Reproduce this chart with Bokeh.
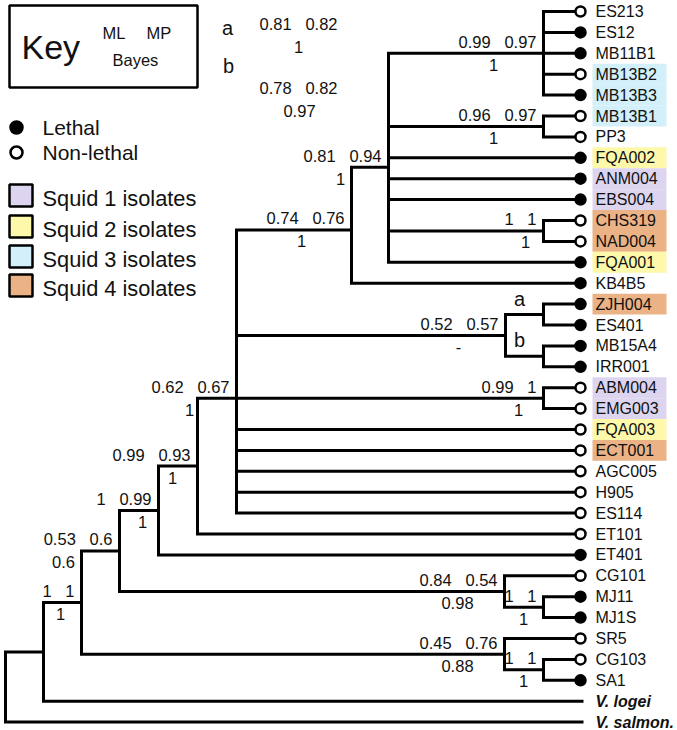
from bokeh.plotting import figure
from bokeh.models import Range1d
from bokeh.embed import file_html
from bokeh.resources import INLINE
from bokeh.core.properties import value

# ---------------- data ----------------
leaves = ["ES213", "ES12", "MB11B1", "MB13B2", "MB13B3", "MB13B1", "PP3",
          "FQA002", "ANM004", "EBS004", "CHS319", "NAD004", "FQA001", "KB4B5",
          "ZJH004", "ES401", "MB15A4", "IRR001", "ABM004", "EMG003", "FQA003",
          "ECT001", "AGC005", "H905", "ES114", "ET101", "ET401", "CG101",
          "MJ11", "MJ1S", "SR5", "CG103", "SA1", "V. logei", "V. salmon."]
# L = lethal, N = non-lethal, "" = outgroup (no marker)
lethal = ["N", "L", "L", "N", "L", "N", "N", "L", "L", "L", "N", "N", "L", "L",
          "L", "L", "L", "L", "N", "N", "N", "N", "N", "N", "N", "N", "L", "N",
          "L", "L", "N", "N", "L", "", ""]
# squid host group (0 = none)
squid = [0, 0, 0, 3, 3, 3, 0, 2, 1, 1, 4, 4, 2, 0, 4, 0, 0, 0, 1, 1, 2, 4,
         0, 0, 0, 0, 0, 0, 0, 0, 0, 0, 0, 0, 0]
squid_names = ["Squid 1 isolates", "Squid 2 isolates", "Squid 3 isolates", "Squid 4 isolates"]

# internal nodes (children listed before parents)
node_names = ["n1", "n2", "n3", "H", "F", "na", "nb", "nz", "nab", "E", "D", "G",
              "nmj", "ncg", "nsa", "nsr", "C", "B", "A", "root"]
node_children = [[0, 1, 2, 3, 4], [5, 6], [10, 11], ["n1", "n2", 7, 8, 9, "n3", 12],
                 ["H", 13], [14, 15], [16, 17], ["na", "nb"], [18, 19],
                 ["F", "nz", "nab", 20, 21, 22, 23, 24], ["E", 25], ["D", 26],
                 [28, 29], [27, "nmj"], [31, 32], [30, "nsa"], ["G", "ncg"],
                 ["C", "nsr"], ["B", 33], ["A", 34]]
# horizontal position of each node (branch depth)
node_depth = [543, 543, 543, 388, 351, 543, 543, 505, 543, 236, 197, 158,
              543, 504, 543, 504, 119, 81, 43, 5]
ml = ["0.99", "0.96", "1", "0.81", "0.74", "", "", "0.52", "0.99", "0.62", "0.99", "1",
      "1", "0.84", "1", "0.45", "0.53", "1", "", ""]
mp = ["0.97", "0.97", "1", "0.94", "0.76", "", "", "0.57", "1", "0.67", "0.93", "0.99",
      "1", "0.54", "1", "0.76", "0.6", "1", "", ""]
bayes = ["1", "1", "1", "1", "1", "", "", "-", "1", "1", "1", "1",
         "1", "0.98", "1", "0.88", "0.6", "1", "", ""]
clade_tags = {"na": "a", "nb": "b"}
clade_support = {"a": ("0.81", "0.82", "1"), "b": ("0.78", "0.82", "0.97")}

# ---------------- layout ----------------
Y0, DY = 11.0, 20.9
TIP = 580
FONT = value("Liberation Sans")
TXT = "#111111"
anchor_rows = {"H": 7.45, "F": 10.45, "E": 18.5}
bayes_dx = {"n1": -50, "n2": -50, "H": -48, "n3": -18, "F": -50, "nz": -47,
            "nab": -25, "E": -47, "D": -25, "G": -16, "C": -56, "B": -21,
            "ncg": -47, "nmj": -20, "nsr": -47, "nsa": -20}
squid_colors = {1: "#ddd5ef", 2: "#fdf8aa", 3: "#d3effa", 4: "#eab285"}
SP = "\u00a0\u00a0\u00a0"

pos = {}
for i, lab in enumerate(leaves):
    pos[i] = (TIP if lethal[i] else 583, Y0 + DY * i)
for k, name in enumerate(node_names):
    ch = node_children[k]
    if name in anchor_rows:
        y = Y0 + DY * anchor_rows[name]
    else:
        y = (pos[ch[0]][1] + pos[ch[-1]][1]) / 2.0
    pos[name] = (node_depth[k], y)

p = figure(width=677, height=730, x_range=Range1d(0, 677), y_range=Range1d(730, 0),
           output_backend="svg", toolbar_location=None, x_axis_type=None,
           y_axis_type=None, min_border=0)
p.outline_line_color = None
p.xgrid.visible = False
p.ygrid.visible = False
p.background_fill_color = "white"

# highlight boxes behind leaf labels
bl, br, bt, bb, bc = [], [], [], [], []
for i, g in enumerate(squid):
    if g:
        y = pos[i][1]
        bl.append(592); br.append(666); bt.append(y - DY / 2); bb.append(y + DY / 2)
        bc.append(squid_colors[g])
p.quad(left=bl, right=br, top=bt, bottom=bb, fill_color=bc, line_color=None)

# branches
bx, by = [], []
sx0, sy0, sx1, sy1 = [], [], [], []
for k, name in enumerate(node_names):
    nx, ny = pos[name]
    ch = node_children[k]
    c0, c1 = pos[ch[0]], pos[ch[-1]]
    bx.append([c0[0], nx, nx, c1[0]])
    by.append([c0[1], c0[1], c1[1], c1[1]])
    for c in ch[1:-1]:
        cx, cy = pos[c]
        sx0.append(nx); sy0.append(cy); sx1.append(cx); sy1.append(cy)
p.multi_line(xs=bx, ys=by, line_color="black", line_width=3, line_join="miter")
p.segment(x0=sx0, y0=sy0, x1=sx1, y1=sy1, line_color="black", line_width=3)

# leaf markers
mx, my, mf = [], [], []
for i, s in enumerate(lethal):
    if s:
        mx.append(TIP); my.append(pos[i][1]); mf.append("black" if s == "L" else "white")
p.scatter(x=mx, y=my, size=10, fill_color=mf, line_color="black", line_width=2.5)

# leaf labels
ix = [i for i in range(len(leaves)) if lethal[i]]
p.text(x=[595] * len(ix), y=[pos[i][1] for i in ix], text=[leaves[i] for i in ix],
       text_font=FONT, text_font_size="16px", text_color=TXT, text_baseline="middle")
ox = [i for i in range(len(leaves)) if not lethal[i]]
p.text(x=[595] * len(ox), y=[pos[i][1] for i in ox], text=[leaves[i] for i in ox],
       text_font=FONT, text_font_size="16px", text_font_style="bold italic",
       text_color=TXT, text_baseline="middle")

# support values
tx, ty, tt, ux, uy, ut = [], [], [], [], [], []
for k, name in enumerate(node_names):
    if not ml[k]:
        continue
    nx, ny = pos[name]
    tx.append(nx - 7); ty.append(ny - 11.5); tt.append(ml[k] + SP + mp[k])
    ux.append(nx + bayes_dx[name]); uy.append(ny + 11.5); ut.append(bayes[k])
p.text(x=tx, y=ty, text=tt, text_font=FONT, text_font_size="16.5px", text_color=TXT,
       text_align="right", text_baseline="middle")
p.text(x=ux, y=uy, text=ut, text_font=FONT, text_font_size="16.5px", text_color=TXT,
       text_align="center", text_baseline="middle")

# clade tags a / b
cx_, cy_, ct_ = [], [], []
for name, tag in clade_tags.items():
    nx, ny = pos[name]
    cx_.append(nx - 24); cy_.append(ny - 16); ct_.append(tag)
p.text(x=cx_, y=cy_, text=ct_, text_font=FONT, text_font_size="20px", text_color=TXT,
       text_align="center", text_baseline="middle")

# key box
p.quad(left=[9], right=[197], top=[5], bottom=[87], fill_color=None,
       line_color="black", line_width=2.5)
p.text(x=[21], y=[46], text=["Key"], text_font=FONT, text_font_size="34px",
       text_color=TXT, text_baseline="middle")
p.text(x=[102, 146, 112], y=[32, 32, 59], text=["ML", "MP", "Bayes"], text_font=FONT,
       text_font_size="16.5px", text_color=TXT, text_baseline="middle")

# clade a/b support key
tags = list(clade_support.keys())
p.text(x=[227, 228], y=[27, 65], text=tags, text_font=FONT, text_font_size="20px",
       text_color=TXT, text_align="center", text_baseline="middle")
p.text(x=[298, 298], y=[23, 87], text=[clade_support[t][0] + SP + clade_support[t][1] for t in tags],
       text_font=FONT, text_font_size="16.5px", text_color=TXT, text_align="center",
       text_baseline="middle")
p.text(x=[298, 299], y=[46, 110], text=[clade_support[t][2] for t in tags],
       text_font=FONT, text_font_size="16.5px", text_color=TXT, text_align="center",
       text_baseline="middle")

# lethality legend
p.scatter(x=[16, 16], y=[127, 152], size=12, fill_color=["black", "white"],
          line_color="black", line_width=2.5)
p.text(x=[42, 42], y=[127, 152], text=["Lethal", "Non-lethal"], text_font=FONT,
       text_font_size="21px", text_color=TXT, text_baseline="middle")

# squid legend
sq_y = [195, 226, 256, 285]
p.quad(left=[9] * 4, right=[32] * 4, top=[y - 11 for y in sq_y], bottom=[y + 11 for y in sq_y],
       fill_color=[squid_colors[g] for g in (1, 2, 3, 4)], line_color="black", line_width=2.5)
p.text(x=[42] * 4, y=[y + 3 for y in sq_y], text=squid_names, text_font=FONT,
       text_font_size="21.8px", text_color=TXT, text_baseline="middle")

open("out.html", "w").write(file_html(p, INLINE))
